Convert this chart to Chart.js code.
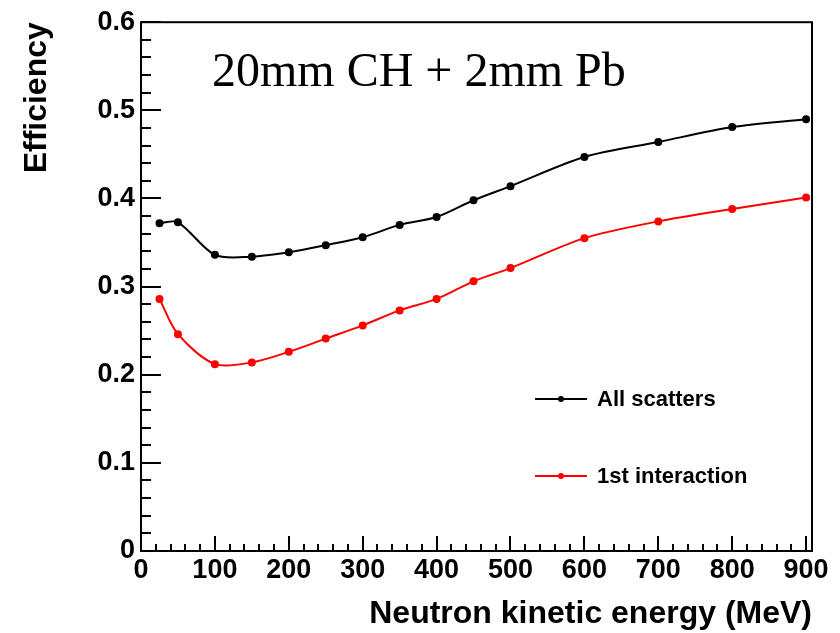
<!DOCTYPE html>
<html>
<head>
<meta charset="utf-8">
<script src="https://cdn.jsdelivr.net/npm/chart.js@4/dist/chart.umd.min.js"></script>
<style>
  html, body { margin: 0; padding: 0; background: #fff; }
  #wrap { width: 840px; height: 633px; position: relative; }
</style>
</head>
<body>
<div id="wrap"><canvas id="c" width="840" height="633"></canvas></div>
<script>
// ---- data ----
const energies = [25, 50, 100, 150, 200, 250, 300, 350, 400, 450, 500, 600, 700, 800, 900];
const allScatters = [0.372, 0.373, 0.336, 0.334, 0.339, 0.347, 0.356, 0.370, 0.379, 0.398, 0.414, 0.447, 0.464, 0.481, 0.490];
const firstInteraction = [0.286, 0.246, 0.212, 0.214, 0.226, 0.241, 0.256, 0.273, 0.286, 0.306, 0.321, 0.355, 0.374, 0.388, 0.401];
const seriesLabels = ['All scatters', '1st interaction'];
const seriesColors = ['#000000', '#ff0000'];
const plotTitle = '20mm CH + 2mm Pb';
const xTitle = 'Neutron kinetic energy (MeV)';
const yTitle = 'Efficiency';

const SANS = '"Liberation Sans", Arial, Helvetica, sans-serif';
const SERIF = '"Liberation Serif", "Times New Roman", serif';

function toPoints(xs, ys) { return xs.map((x, i) => ({ x: x, y: ys[i] })); }

const frameAndTicks = {
  id: 'frameAndTicks',
  afterDraw(chart) {
    const ctx = chart.ctx;
    const a = chart.chartArea;
    const xs = chart.scales.x, ys = chart.scales.y;
    ctx.save();
    ctx.strokeStyle = '#000';
    ctx.lineWidth = 2;
    ctx.lineCap = 'butt';
    ctx.beginPath();
    xs.ticks.forEach(t => {
      const px = Math.round(xs.getPixelForValue(t.value));
      const major = Math.abs(t.value % 100) < 1e-6;
      const len = major ? 15 : 7;
      ctx.moveTo(px, a.bottom);
      ctx.lineTo(px, a.bottom - len);
    });
    ys.ticks.forEach(t => {
      const py = Math.round(ys.getPixelForValue(t.value));
      const r = t.value * 10;
      const major = Math.abs(r - Math.round(r)) < 1e-6;
      const len = major ? 20 : 10;
      ctx.moveTo(a.left, py);
      ctx.lineTo(a.left + len, py);
    });
    ctx.stroke();
    ctx.strokeRect(a.left, a.top, a.right - a.left, a.bottom - a.top);

    ctx.fillStyle = '#000';
    ctx.font = '48px ' + SERIF;
    ctx.textBaseline = 'alphabetic';
    ctx.textAlign = 'left';
    ctx.fillText(plotTitle, 212, 86);

    const legY = [399, 476];
    chart.data.datasets.forEach((ds, i) => {
      const y = legY[i];
      ctx.strokeStyle = ds.borderColor;
      ctx.lineWidth = 2;
      ctx.beginPath();
      ctx.moveTo(535, y);
      ctx.lineTo(587, y);
      ctx.stroke();
      ctx.fillStyle = ds.backgroundColor;
      ctx.beginPath();
      ctx.arc(561, y, 3, 0, Math.PI * 2);
      ctx.fill();
      ctx.fillStyle = '#000';
      ctx.font = 'bold 22px ' + SANS;
      ctx.textBaseline = 'middle';
      ctx.fillText(ds.label, 597, y + 1);
    });
    ctx.restore();
  }
};

new Chart(document.getElementById('c'), {
  type: 'scatter',
  data: {
    datasets: [
      {
        label: seriesLabels[0],
        data: toPoints(energies, allScatters),
        showLine: true,
        borderColor: seriesColors[0],
        backgroundColor: seriesColors[0],
        borderWidth: 2,
        pointRadius: 3,
        pointHoverRadius: 3,
        tension: 0.3
      },
      {
        label: seriesLabels[1],
        data: toPoints(energies, firstInteraction),
        showLine: true,
        borderColor: seriesColors[1],
        backgroundColor: seriesColors[1],
        borderWidth: 2,
        pointRadius: 3,
        pointHoverRadius: 3,
        tension: 0.3
      }
    ]
  },
  options: {
    responsive: false,
    animation: false,
    events: [],
    layout: { padding: { left: 0, top: 17, right: 28, bottom: 0 } },
    plugins: {
      legend: { display: false },
      tooltip: { enabled: false },
      title: { display: false }
    },
    scales: {
      x: {
        type: 'linear',
        min: 0,
        max: 908,
        afterFit(scale) { scale.height = 82; },
        grid: { display: false, drawTicks: false, tickLength: 0 },
        border: { display: false },
        ticks: {
          stepSize: 20,
          includeBounds: false,
          autoSkip: false,
          maxRotation: 0,
          minRotation: 0,
          padding: 3,
          color: '#000',
          font: { family: SANS, size: 27, weight: 'bold' },
          callback: (v) => (Math.abs(v % 100) < 1e-6 ? String(Math.round(v)) : '')
        },
        title: {
          display: true,
          text: xTitle,
          align: 'end',
          color: '#000',
          font: { family: SANS, size: 32, weight: 'bold' },
          padding: { top: 0, bottom: 0 }
        }
      },
      y: {
        type: 'linear',
        min: 0,
        max: 0.6,
        afterFit(scale) { scale.width = 141; },
        grid: { display: false, drawTicks: false, tickLength: 0 },
        border: { display: false },
        ticks: {
          stepSize: 0.02,
          includeBounds: false,
          autoSkip: false,
          padding: 6,
          color: '#000',
          font: { family: SANS, size: 27, weight: 'bold' },
          callback: (v) => {
            const r = v * 10;
            if (Math.abs(r - Math.round(r)) > 1e-6) return '';
            const k = Math.round(r);
            return k === 0 ? '0' : (k / 10).toFixed(1);
          }
        },
        title: {
          display: true,
          text: yTitle,
          align: 'end',
          color: '#000',
          font: { family: SANS, size: 32, weight: 'bold' },
          padding: { top: 18, bottom: 0 }
        }
      }
    }
  },
  plugins: [frameAndTicks]
});
</script>
</body>
</html>
